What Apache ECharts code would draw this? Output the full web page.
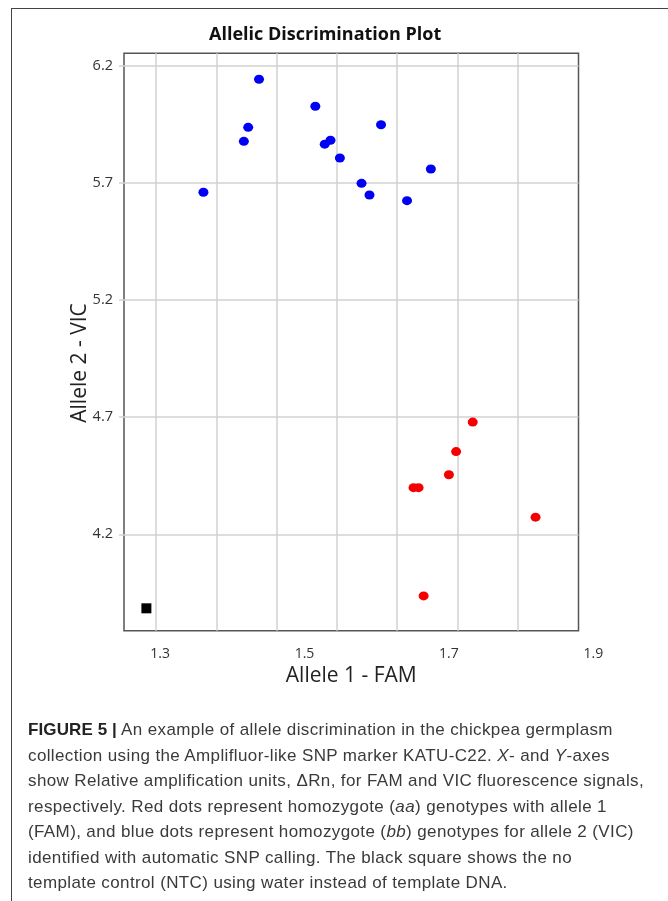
<!DOCTYPE html>
<html>
<head>
<meta charset="utf-8">
<script src="https://cdn.jsdelivr.net/npm/echarts@6/dist/echarts.min.js"></script>
<style>
  html, body { margin: 0; padding: 0; background: #fff; }
  #wrap { position: relative; width: 668px; height: 901px; overflow: hidden; }
  #chart { position: absolute; left: 0; top: 0; width: 668px; height: 901px; }
  #box { position: absolute; left: 11px; top: 8px; width: 700px; height: 960px;
         border-left: 1.5px solid #444; border-top: 1.5px solid #444; pointer-events: none; }
  #caption { position: absolute; left: 28px; top: 717px; width: 640px;
             font-family: "Liberation Sans", Arial, sans-serif; font-size: 17px; line-height: 25.5px;
             letter-spacing: 0.38px; color: #3a3a3a; white-space: nowrap; }
  #caption b { color: #222; letter-spacing: 0.1px; }
</style>
</head>
<body>
<div id="wrap">
  <div id="chart"></div>
  <div id="box"></div>
  <div id="caption">
    <b>FIGURE 5 |</b> An example of allele discrimination in the chickpea germplasm<br>
    collection using the Amplifluor-like SNP marker KATU-C22. <i>X</i>- and <i>Y</i>-axes<br>
    show Relative amplification units, ΔRn, for FAM and VIC fluorescence signals,<br>
    respectively. Red dots represent homozygote (<i>aa</i>) genotypes with allele 1<br>
    (FAM), and blue dots represent homozygote (<i>bb</i>) genotypes for allele 2 (VIC)<br>
    identified with automatic SNP calling. The black square shows the no<br>
    template control (NTC) using water instead of template DNA.
  </div>
</div>
<script>
// ---- data ----
const blueX = [1.360, 1.416, 1.422, 1.437, 1.515, 1.528, 1.536, 1.549, 1.606, 1.579, 1.590, 1.642, 1.675];
const blueY = [5.660, 5.877, 5.937, 6.142, 6.027, 5.865, 5.882, 5.806, 5.948, 5.698, 5.648, 5.624, 5.759];
const redX  = [1.733, 1.710, 1.700, 1.651, 1.658, 1.820, 1.665];
const redY  = [4.679, 4.553, 4.454, 4.399, 4.399, 4.273, 3.937];
const ntcX  = [1.281];
const ntcY  = [3.884];
const xTickLabels = [1.3, 1.5, 1.7, 1.9];
const xGridValues = [1.294, 1.378, 1.461, 1.545, 1.628, 1.712, 1.796];
const yTickLabels = [4.2, 4.7, 5.2, 5.7, 6.2];

const zip = (xs, ys) => xs.map((x, i) => [x, ys[i]]);

const X_MIN = 1.25, X_MAX = 1.8795, X_MAX_LABELS = 1.92867;
const Y_MIN = 3.7885, Y_MAX = 6.2529;

const chart = echarts.init(document.getElementById('chart'), null, { renderer: 'canvas' });
chart.setOption({
  animation: false,
  backgroundColor: 'transparent',
  title: {
    text: 'Allelic Discrimination Plot',
    left: 204, top: 21,
    textStyle: { fontFamily: 'Open Sans', fontWeight: 'bold', fontSize: 18, color: '#111' }
  },
  grid: [
    { left: 124, right: 89.5, top: 53.3, bottom: 270.3, show: true,
      borderColor: '#555', borderWidth: 1.5, backgroundColor: 'transparent' },
    { left: 124, right: 54, top: 53.3, bottom: 270.3, show: false }
  ],
  xAxis: [
    {
      type: 'value', gridIndex: 0, min: X_MIN, max: X_MAX,
      axisLine: { show: false },
      axisTick: { show: false, customValues: xGridValues },
      axisLabel: { show: false },
      splitLine: { show: true, lineStyle: { color: '#d2d2d2', width: 1.5 } },
      name: 'Allele 1 - FAM', nameLocation: 'middle', nameGap: 35, nameMoveOverlap: false,
      nameTextStyle: { fontFamily: 'Open Sans', fontSize: 21, color: '#222' }
    },
    {
      type: 'value', gridIndex: 1, min: X_MIN, max: X_MAX_LABELS,
      axisLine: { show: false },
      axisTick: { show: false },
      splitLine: { show: false },
      axisLabel: {
        customValues: xTickLabels, margin: 16,
        formatter: v => v.toFixed(1),
        fontFamily: 'Open Sans', fontSize: 14, color: '#333'
      }
    }
  ],
  yAxis: [
    {
      type: 'value', gridIndex: 0, min: Y_MIN, max: Y_MAX,
      axisLine: { show: false },
      axisTick: { show: true, customValues: yTickLabels, length: 5, lineStyle: { color: '#d2d2d2', width: 1.5 } },
      axisLabel: {
        customValues: yTickLabels, margin: 11,
        formatter: v => v.toFixed(1),
        fontFamily: 'Open Sans', fontSize: 14.5, color: '#333'
      },
      splitLine: { show: true, lineStyle: { color: '#d2d2d2', width: 1.5 } },
      name: 'Allele 2 - VIC', nameLocation: 'middle', nameGap: 33, nameMoveOverlap: false,
      nameTextStyle: { fontFamily: 'Open Sans', fontSize: 21, color: '#222', padding: [0, 42, 0, 0] }
    },
    {
      type: 'value', gridIndex: 1, min: Y_MIN, max: Y_MAX, show: false
    }
  ],
  series: [
    { name: 'VIC (bb)', type: 'scatter', xAxisIndex: 0, yAxisIndex: 0,
      data: zip(blueX, blueY), symbol: 'circle', symbolSize: [10, 9],
      itemStyle: { color: '#0000f5', opacity: 1 } },
    { name: 'FAM (aa)', type: 'scatter', xAxisIndex: 0, yAxisIndex: 0,
      data: zip(redX, redY), symbol: 'circle', symbolSize: [10, 9],
      itemStyle: { color: '#f50000', opacity: 1 } },
    { name: 'NTC', type: 'scatter', xAxisIndex: 0, yAxisIndex: 0,
      data: zip(ntcX, ntcY), symbol: 'rect', symbolSize: 10,
      itemStyle: { color: '#000', opacity: 1 } }
  ]
});
</script>
</body>
</html>
